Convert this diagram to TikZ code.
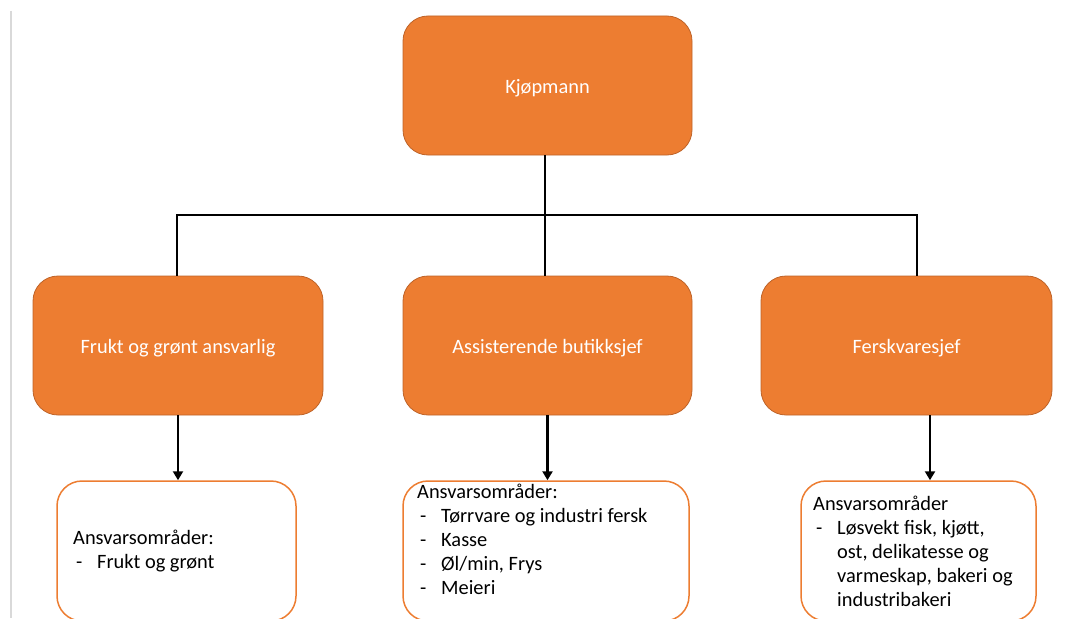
\documentclass[tikz,border=0pt]{standalone}
\usepackage{fontspec}
\setmainfont{Carlito}
\usetikzlibrary{arrows.meta}
\definecolor{oransje}{HTML}{ED7D31}
\definecolor{oransjekant}{HTML}{BE6328}
\newcommand{\strek}[1]{\hspace*{3pt}\makebox[21pt][l]{-}#1}
\newcommand{\innrykk}[1]{\hspace*{24pt}#1}
\begin{document}
\begin{tikzpicture}[x=1pt,y=-1pt,
  rolle/.style={draw=oransjekant,line width=0.8pt,fill=oransje,rounded corners=25pt,minimum width=289pt,minimum height=139pt,text=white,font=\fontsize{20.4}{24}\selectfont,text height=15pt,text depth=0pt,inner sep=0pt},
  omr/.style={draw=oransje,line width=1.5pt,fill=white,rounded corners=25pt,minimum height=140pt,inner sep=0pt},
  liste/.style={align=left,font=\fontsize{20.4}{24}\selectfont,inner sep=0pt,anchor=west},
  tre/.style={line width=2.5pt},
  pil/.style={line width=2.5pt,-{Triangle[width=10pt,length=9pt]}}]
\useasboundingbox(0,0)rectangle(1075,618);
\clip(0,0)rectangle(1075,618);
%kant
\draw[black!15,line width=1.5pt](11,11)--(11,618);
%roller
\node[rolle](kjopmann)at(547.5,85.5){Kjøpmann};
\node[rolle,minimum width=290pt](frukt)at(178,345.5){Frukt og grønt ansvarlig};
\node[rolle](assist)at(547.5,345.5){Assisterende butikksjef};
\node[rolle,minimum width=291pt](fersk)at(906.5,345.5){Ferskvaresjef};
%ansvarsomraader
\node[omr,minimum width=239pt](fruktomr)at(176.5,551){};
\node[omr,minimum width=286pt](assistomr)at(546,551){};
\node[omr,minimum width=235pt](ferskomr)at(918.5,551){};
\node[liste](frukttekst)at(73,551.5){Ansvarsområder:\\\strek{Frukt og grønt}};
\node[liste](assisttekst)at(417,539){Ansvarsområder:\\\strek{Tørrvare og industri fersk}\\\strek{Kasse}\\\strek{Øl/min, Frys}\\\strek{Meieri}};
\node[liste](fersktekst)at(813,551.5){Ansvarsområder\\\strek{Løsvekt fisk, kjøtt,}\\\innrykk{ost, delikatesse og}\\\innrykk{varmeskap, bakeri og}\\\innrykk{industribakeri}};
%linjer
\coordinate(midt)at(545,215);
\coordinate(venstre)at(177,215);
\coordinate(hoyre)at(917,215);
\draw[tre](kjopmann.south-|midt)--(assist.north-|midt);
\draw[tre](frukt.north-|venstre)--(venstre)--(hoyre)--(fersk.north-|hoyre);
%piler
\coordinate(ferskpil)at(930,0);
\draw[pil](frukt.south)--(fruktomr.north-|frukt.south);
\draw[pil](assist.south)--(assistomr.north-|assist.south);
\draw[pil](fersk.south-|ferskpil)--(ferskomr.north-|ferskpil);
\end{tikzpicture}
\end{document}
